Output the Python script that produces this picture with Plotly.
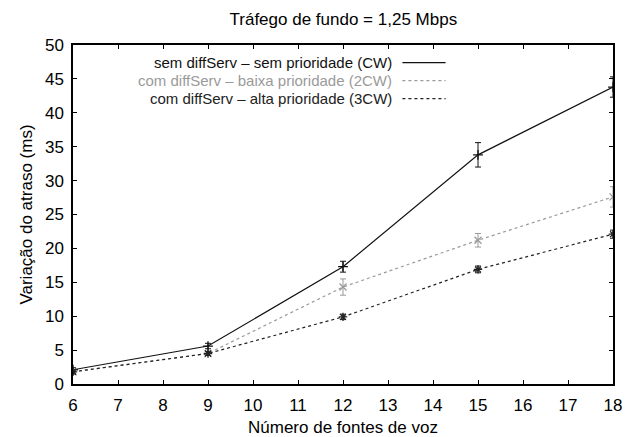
import plotly.graph_objects as go

# Número de fontes de voz
fontes = [6, 9, 12, 15, 18]

# Variação do atraso (ms) e erro de cada série
cw = [2.1, 5.6, 17.3, 33.8, 43.8]
cw_err = [0.3, 0.4, 0.8, 1.8, 1.5]
cw2 = [1.8, 4.5, 14.3, 21.2, 27.6]
cw2_err = [0.3, 0.3, 1.2, 1.0, 1.5]
cw3 = [1.8, 4.5, 9.9, 16.9, 22.1]
cw3_err = [0.3, 0.3, 0.4, 0.5, 0.6]

nomes = [
    "sem diffServ \u2013 sem prioridade (CW)",
    "com diffServ \u2013 baixa prioridade (2CW)",
    "com diffServ \u2013 alta prioridade (3CW)",
]
cores = ["#111111", "#9a9a9a", "#222222"]
tracos = ["solid", "dot", "dot"]
simbolos = ["cross-thin-open", "x-thin-open", "asterisk-open"]

FONTE = "Liberation Sans, Arial, sans-serif"
TAM = 17
TAM_LEG = 15

fig = go.Figure()
for nome, ys, err, cor, dash, sym in zip(
    nomes, [cw, cw2, cw3], [cw_err, cw2_err, cw3_err], cores, tracos, simbolos
):
    fig.add_trace(go.Scatter(
        x=fontes, y=ys, name=nome, mode="lines+markers",
        line=dict(color=cor, width=1.2, dash=dash),
        marker=dict(symbol=sym, size=7, color=cor, line=dict(color=cor, width=1.3)),
        error_y=dict(type="data", array=err, visible=True, color=cor,
                     thickness=1, width=3),
        showlegend=False,
    ))

# Legenda no estilo gnuplot: texto alinhado à direita, amostra de linha à direita
leg_y = [0.948, 0.895, 0.842]
for nome, cor, dash, yy in zip(nomes, cores, tracos, leg_y):
    fig.add_annotation(
        xref="paper", yref="paper", x=0.593, y=yy, text=nome,
        showarrow=False, xanchor="right", yanchor="middle", borderpad=0,
        font=dict(family=FONTE, size=TAM_LEG, color=cor),
    )
    fig.add_shape(
        type="line", xref="paper", yref="paper",
        x0=0.61, x1=0.69, y0=yy, y1=yy,
        line=dict(color=cor, width=1.2, dash=dash),
    )

eixo = dict(
    showline=True, linecolor="black", linewidth=1.5, mirror="ticks",
    ticks="inside", ticklen=4, tickcolor="black", showgrid=False, zeroline=False,
    tickfont=dict(family=FONTE, size=TAM, color="black"), automargin=False,
)

fig.update_layout(
    width=630, height=437,
    margin=dict(l=73, r=17, t=45, b=53),
    paper_bgcolor="white", plot_bgcolor="white",
    title=dict(text="Tráfego de fundo = 1,25 Mbps", x=0.545, xanchor="center",
               y=0.957, yanchor="middle",
               font=dict(family=FONTE, size=TAM, color="black")),
    xaxis=dict(eixo, range=[6, 18], dtick=1, ticklabelstandoff=5,
               title=dict(text="Número de fontes de voz", standoff=10,
                          font=dict(family=FONTE, size=TAM, color="black"))),
    yaxis=dict(eixo, range=[0, 50], dtick=5, ticklabelstandoff=4,
               title=dict(text="Variação do atraso (ms)", standoff=8,
                          font=dict(family=FONTE, size=TAM, color="black"))),
)

fig.write_html("out.html")
